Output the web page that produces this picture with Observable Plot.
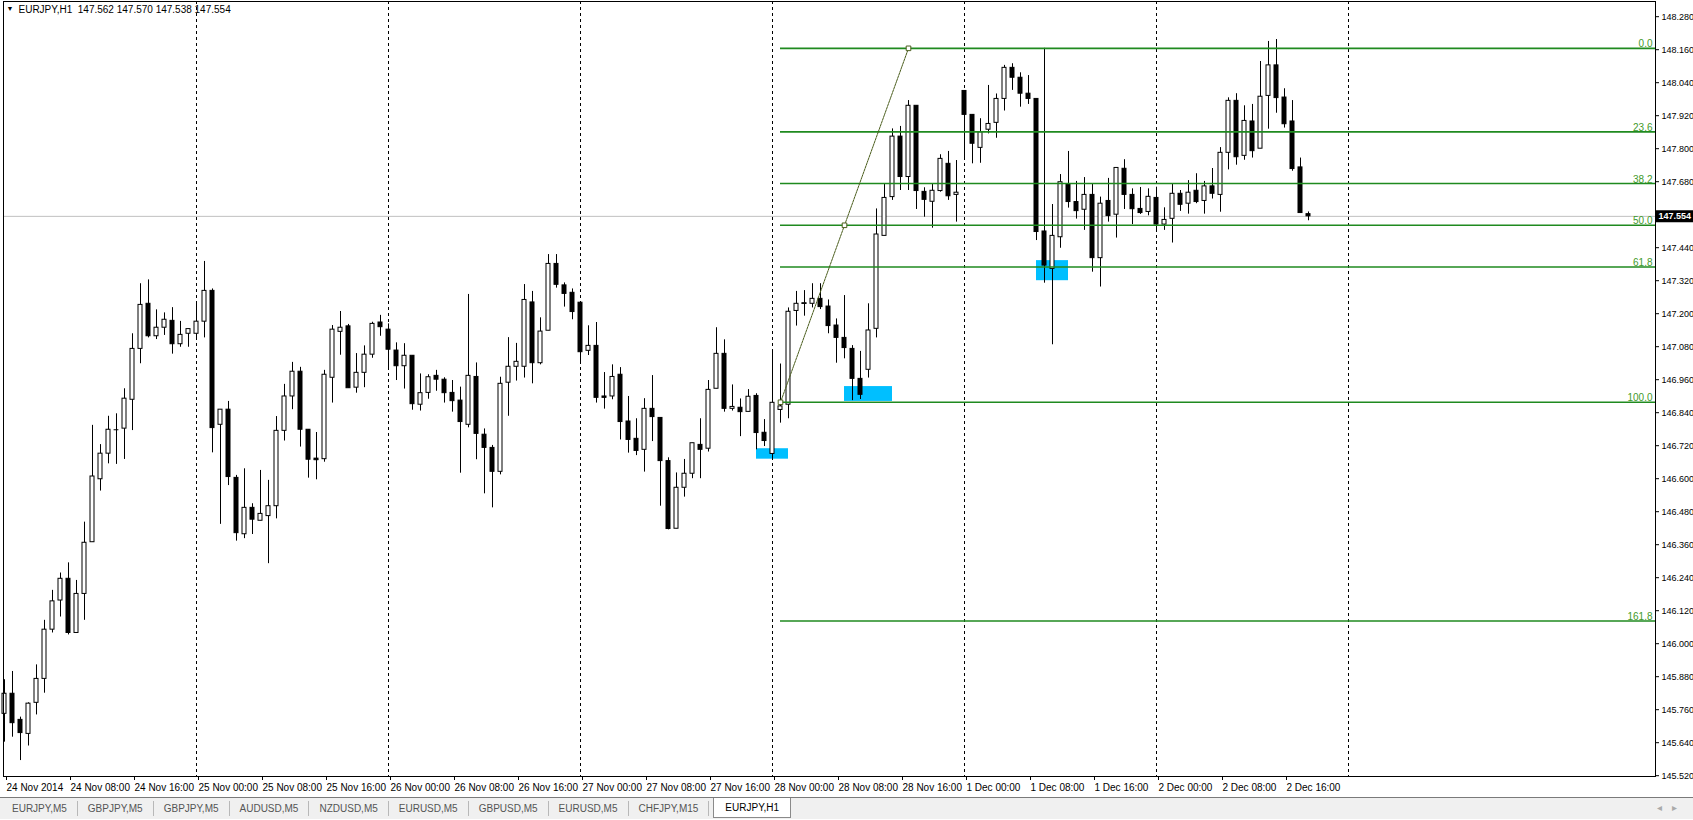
<!DOCTYPE html>
<html><head><meta charset="utf-8">
<script src="https://cdn.jsdelivr.net/npm/d3@7"></script>
<script src="https://cdn.jsdelivr.net/npm/@observablehq/plot@0.6"></script>
<style>
html,body{margin:0;padding:0;background:#fff;width:1693px;height:820px;overflow:hidden;font-family:"Liberation Sans",Arial,sans-serif;}
#chart svg{display:block;overflow:hidden}
#tabs{position:relative;height:22px;background:#f0f0f0;border-top:1px solid #7a7a7a;display:flex;align-items:stretch;padding-left:2px;box-sizing:border-box;font-size:10px;color:#555;}
#tabs .tab{padding:0 10px;display:flex;align-items:center;border-right:1px solid #b8b8b8;margin:3px 0 3px 0;}
#tabs .tab.active{background:#fff;color:#000;border:1px solid #8a8a8a;border-top:none;margin:0 0 1px 4px;padding:0 11px;}
#tabs .arrows{position:absolute;right:6px;top:4px;color:#aaa;font-size:10px;letter-spacing:10px;}
</style></head><body>
<div id="chart"></div>
<div id="tabs"></div>
<script>
// ---------- data ----------
const symbol = "EURJPY,H1";
const quote = [147.562, 147.570, 147.538, 147.554];
const bid = 147.554;

const open = [145.745,145.818,145.723,145.672,145.785,145.872,146.051,146.157,146.236,146.039,
146.181,146.369,146.598,146.691,146.778,146.782,146.887,147.072,147.236,147.118,
147.149,147.174,147.089,147.127,147.127,147.171,147.283,146.796,146.851,146.603,
146.398,146.494,146.447,146.464,146.500,146.774,146.899,146.989,146.778,146.673,
146.671,146.967,147.134,147.154,146.931,146.985,147.051,147.168,147.142,147.066,
147.009,147.047,146.869,146.912,146.974,146.960,146.912,146.884,146.796,146.970,
146.760,146.712,146.625,146.949,147.007,147.007,147.241,147.020,147.138,147.381,
147.303,147.276,147.240,147.065,147.083,146.899,146.899,146.978,146.808,146.745,
146.705,146.854,146.821,146.664,146.418,146.567,146.618,146.723,146.709,146.927,
147.054,146.854,146.858,146.843,146.901,146.767,146.690,146.850,146.869,147.210,
147.236,147.236,147.254,147.226,147.157,147.112,147.072,146.963,146.996,147.145,
147.483,147.624,147.844,147.697,147.956,147.643,147.607,147.646,147.745,147.632,
148.010,147.923,147.803,147.869,147.894,147.981,148.094,148.058,148.000,147.981,
147.499,147.363,147.478,147.670,147.606,147.578,147.632,147.402,147.610,147.560,
147.727,147.632,147.581,147.570,147.621,147.524,147.545,147.636,147.600,147.647,
147.610,147.663,147.632,147.785,147.974,147.774,147.899,147.800,147.992,148.103,
147.986,147.899,147.732,147.562];

const high = [145.869,145.899,145.733,145.785,145.923,146.085,146.194,146.257,146.294,146.230,
146.442,146.794,146.724,146.827,146.836,146.927,147.127,147.309,147.323,147.214,
147.203,147.222,147.172,147.144,147.242,147.390,147.290,146.851,146.881,146.612,
146.636,146.509,146.630,146.594,146.826,146.943,147.023,147.005,146.778,146.768,
146.994,147.157,147.208,147.161,147.055,147.083,147.169,147.194,147.163,147.094,
147.091,147.047,146.981,146.978,146.994,146.967,146.957,146.933,147.270,147.021,
146.781,146.721,146.969,147.113,147.092,147.306,147.281,147.185,147.415,147.415,
147.312,147.290,147.240,147.156,147.168,146.986,147.014,147.004,146.899,146.818,
146.891,146.975,146.821,146.676,146.621,146.670,146.729,146.818,146.957,147.149,
147.105,146.941,146.890,146.924,146.909,146.815,147.069,147.017,147.221,147.281,
147.284,147.309,147.309,147.250,147.181,147.266,147.084,147.063,147.236,147.581,
147.670,147.872,147.881,147.975,147.956,147.658,147.670,147.778,147.790,147.757,
148.010,147.923,147.909,148.030,147.999,148.103,148.109,148.076,148.066,147.981,
148.165,147.597,147.706,147.790,147.681,147.695,147.670,147.624,147.692,147.730,
147.760,147.654,147.659,147.654,147.660,147.585,147.670,147.648,147.684,147.709,
147.681,147.728,147.804,147.985,148.000,147.956,147.961,148.117,148.190,148.197,
148.018,147.975,147.766,147.570];

const low = [145.642,145.660,145.575,145.628,145.741,145.820,146.039,146.097,146.032,146.039,
146.085,146.369,146.555,146.654,146.652,146.670,146.775,147.018,147.112,147.106,
147.121,147.053,147.078,147.078,147.112,147.112,146.694,146.434,146.575,146.373,
146.382,146.397,146.447,146.291,146.454,146.737,146.851,146.715,146.602,146.596,
146.660,146.875,147.049,146.929,146.911,146.931,147.038,147.118,146.996,146.957,
146.926,146.849,146.846,146.889,146.918,146.875,146.842,146.620,146.785,146.669,
146.545,146.494,146.614,146.827,146.955,146.966,146.945,147.014,147.138,147.293,
147.224,147.178,147.018,147.048,146.875,146.853,146.887,146.741,146.693,146.684,
146.624,146.735,146.500,146.414,146.418,146.533,146.600,146.600,146.697,146.927,
146.842,146.846,146.753,146.843,146.705,146.717,146.676,146.802,146.818,147.155,
147.191,147.221,147.215,147.127,147.020,147.036,146.884,146.888,146.966,147.112,
147.483,147.612,147.648,147.648,147.579,147.551,147.511,147.642,147.612,147.533,
147.760,147.745,147.747,147.854,147.838,147.937,148.012,147.951,147.961,147.466,
147.311,147.087,147.438,147.584,147.544,147.503,147.351,147.297,147.533,147.475,
147.579,147.524,147.561,147.556,147.499,147.503,147.457,147.572,147.562,147.600,
147.562,147.617,147.569,147.723,147.740,147.758,147.766,147.800,147.871,147.929,
147.875,147.718,147.566,147.538];

const close = [145.818,145.711,145.675,145.782,145.872,146.051,146.154,146.236,146.039,146.181,
146.367,146.608,146.691,146.778,146.778,146.891,147.072,147.232,147.118,147.149,
147.178,147.089,147.123,147.144,147.171,147.283,146.784,146.851,146.606,146.402,
146.494,146.451,146.472,146.500,146.774,146.899,146.989,146.778,146.669,146.669,
146.978,147.142,147.149,146.929,146.985,147.051,147.163,147.151,147.069,147.009,
147.047,146.871,146.911,146.969,146.960,146.911,146.882,146.806,146.974,146.763,
146.712,146.625,146.945,147.007,147.025,147.250,147.020,147.135,147.381,147.305,
147.272,147.206,147.060,147.083,146.894,146.894,146.970,146.806,146.741,146.701,
146.854,146.824,146.664,146.417,146.567,146.618,146.729,146.705,146.923,147.054,
146.854,146.861,146.842,146.898,146.766,146.737,146.876,146.863,147.207,147.236,
147.238,147.254,147.224,147.155,147.112,147.075,146.963,146.905,147.139,147.488,
147.621,147.844,147.697,147.956,147.646,147.614,147.647,147.763,147.627,147.640,
147.923,147.818,147.860,147.890,147.981,148.094,148.058,148.000,147.981,147.497,
147.375,147.483,147.678,147.606,147.573,147.632,147.402,147.600,147.555,147.730,
147.632,147.580,147.566,147.625,147.524,147.541,147.636,147.596,147.640,147.606,
147.663,147.636,147.785,147.974,147.769,147.901,147.791,147.989,148.103,147.984,
147.889,147.726,147.566,147.554];

const xTickLabels = ["24 Nov 2014","24 Nov 08:00","24 Nov 16:00","25 Nov 00:00","25 Nov 08:00","25 Nov 16:00",
"26 Nov 00:00","26 Nov 08:00","26 Nov 16:00","27 Nov 00:00","27 Nov 08:00","27 Nov 16:00",
"28 Nov 00:00","28 Nov 08:00","28 Nov 16:00","1 Dec 00:00","1 Dec 08:00","1 Dec 16:00",
"2 Dec 00:00","2 Dec 08:00","2 Dec 16:00"];
const barsPerLabel = 8;
const dayStarts = [24, 48, 72, 96, 120, 144, 168];
const yTicks = [145.520,145.640,145.760,145.880,146.000,146.120,146.240,146.360,146.480,146.600,146.720,146.840,
146.960,147.080,147.200,147.320,147.440,147.560,147.680,147.800,147.920,148.040,148.160,148.280].filter(v => Math.abs(v - bid) > 0.03);

const fibLevels = [0, 23.6, 38.2, 50, 61.8, 100, 161.8];
const fibFrom = {i: 97, p: 146.878};
const fibTo = {i: 113, p: 148.165};

const boxI1 = [94, 105, 129];
const boxI2 = [98, 111, 133];
const boxTop = [146.709, 146.935, 147.393];
const boxBottom = [146.671, 146.881, 147.320];

const tabNames = ["EURJPY,M5","GBPJPY,M5","GBPJPY,M5","AUDUSD,M5","NZDUSD,M5","EURUSD,M5","GBPUSD,M5","EURUSD,M5","CHFJPY,M15","EURJPY,H1"];
const activeTab = 9;

// ---------- build ----------
const candles = open.map((o, i) => ({i, o, h: high[i], l: low[i], c: close[i]}));
const bulls = candles.filter(d => d.c > d.o);
const bears = candles.filter(d => d.c < d.o);
const dojis = candles.filter(d => Math.abs(d.c - d.o) < 0.004);
const boxes = boxI1.map((v, k) => ({i1: v, i2: boxI2[k], p1: boxTop[k], p2: boxBottom[k]}));
const fibRows = fibLevels.map(l => ({l, p: fibTo.p - (fibTo.p - fibFrom.p) * l / 100}));
const trend = [fibFrom, fibTo];
const trendPts = [fibFrom, {i: (fibFrom.i + fibTo.i) / 2, p: (fibFrom.p + fibTo.p) / 2}, fibTo];
const xTicks = xTickLabels.map((_, k) => k * barsPerLabel);

const W = 1693, H = 797, mL = 3, mR = 38, mT = 1, mB = 21;
const pxPerBar = 8;
const xDom = [(mL - 4) / pxPerBar, (W - mR - 4) / pxPerBar];
const pxPerYen = 275;
const yTopPx = 16.2, yTopVal = 148.28;
const yDom = [yTopVal - (H - mB - yTopPx) / pxPerYen, yTopVal + (yTopPx - mT) / pxPerYen];
const fibGreen = "#1f8a1f", trendCol = "#4a5d1c";

const chart = Plot.plot({
  width: W, height: H,
  marginLeft: mL, marginRight: mR, marginTop: mT, marginBottom: mB,
  style: {fontFamily: "'Liberation Sans', Arial, sans-serif", fontSize: "10px", color: "#000", background: "#fff"},
  x: {type: "linear", domain: xDom},
  y: {type: "linear", domain: yDom},
  marks: [
    Plot.rect(boxes, {x1: "i1", x2: "i2", y1: "p1", y2: "p2", fill: "#00bfff"}),
    Plot.ruleY([bid], {stroke: "#c0c0c0"}),
    Plot.ruleX(dayStarts, {stroke: "#000", strokeDasharray: "3,3"}),
    Plot.ruleX(candles, {x: "i", y1: "l", y2: "h", stroke: "#000"}),
    Plot.rect(bulls, {x1: d => d.i - 0.25, x2: d => d.i + 0.25, y1: "o", y2: "c", fill: "#fff", stroke: "#000"}),
    Plot.rect(bears, {x1: d => d.i - 0.25, x2: d => d.i + 0.25, y1: "o", y2: "c", fill: "#000", stroke: "#000"}),
    Plot.ruleY(dojis, {y: "c", x1: d => d.i - 0.3, x2: d => d.i + 0.3, stroke: "#000"}),
    Plot.ruleY(fibRows, {y: "p", x1: fibFrom.i, x2: xDom[1], stroke: fibGreen, strokeWidth: 1.6}),
    Plot.text(fibRows, {y: "p", x: xDom[1], text: d => d.l.toFixed(1), textAnchor: "end", lineAnchor: "bottom", dx: -3, dy: -1, fill: "#3f9a2a", fontSize: 10}),
    Plot.line(trend, {x: "i", y: "p", stroke: trendCol, strokeDasharray: "2,1", strokeWidth: 1}),
    Plot.dot(trendPts, {x: "i", y: "p", symbol: "square", r: 2.6, stroke: trendCol, fill: "#fff", strokeWidth: 1}),
    Plot.axisY({anchor: "right", ticks: yTicks, tickFormat: d => d.toFixed(3), tickSize: 3, tickPadding: 3, fontSize: 9}),
    Plot.ruleY([bid], {x1: xDom[1], x2: xDom[1] + mR / pxPerBar, stroke: "#000", strokeWidth: 12}),
    Plot.text([bid], {x: xDom[1], y: bid, text: d => d.toFixed(3), textAnchor: "start", dx: 3, fill: "#fff", fontSize: 9, fontWeight: "bold"}),
    Plot.axisX({ticks: xTicks, tickFormat: (d, k) => xTickLabels[k], textAnchor: "start", tickSize: 4, tickPadding: 3, dx: 2, fontSize: 10}),
    Plot.frame({stroke: "#000"}),
    Plot.text(["\u25BC"], {frameAnchor: "top-left", dx: 3, dy: 5, lineAnchor: "top", fontSize: 7}),
    Plot.text([`${symbol}  ${quote.map(v => v.toFixed(3)).join(" ")}`], {frameAnchor: "top-left", dx: 15, dy: 4, lineAnchor: "top", fontSize: 10})
  ]
});
document.getElementById("chart").appendChild(chart);

const tabsEl = document.getElementById("tabs");
tabNames.forEach((t, k) => {
  const d = document.createElement("div");
  d.className = "tab" + (k === activeTab ? " active" : "");
  d.textContent = t;
  tabsEl.appendChild(d);
});
const arr = document.createElement("div");
arr.className = "arrows";
arr.textContent = "\u25C2\u25B8";
tabsEl.appendChild(arr);
</script>
</body></html>
